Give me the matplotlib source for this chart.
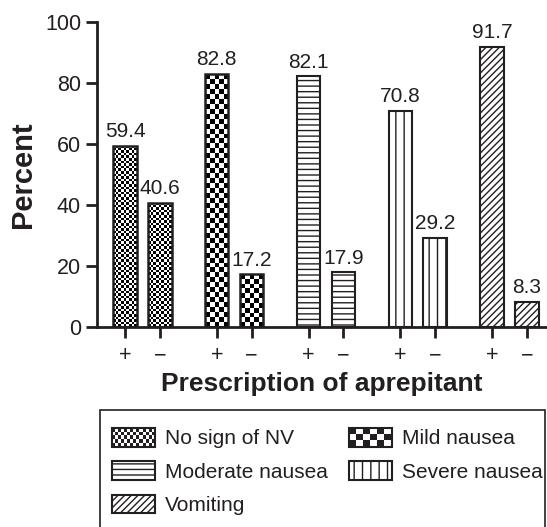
import numpy as np
import matplotlib.pyplot as plt
from matplotlib.patches import Rectangle
from matplotlib.legend_handler import HandlerBase

plt.rcParams['font.family'] = ['Liberation Sans', 'DejaVu Sans']
plt.rcParams['hatch.linewidth'] = 1.0

# data
groups = ['No sign of NV', 'Mild nausea', 'Moderate nausea', 'Severe nausea', 'Vomiting']
with_aprepitant = [59.4, 82.8, 82.1, 70.8, 91.7]
without_aprepitant = [40.6, 17.2, 17.9, 29.2, 8.3]
signs = ['+', '\u2212']
yticks = [0, 20, 40, 60, 80, 100]

# fill style per group: checker cell size in px, or a hatch string
fills = [('checker', 2.6), ('checker', 5.0), ('hatch', '---'), ('hatch', '||'), ('hatch', '/////')]
ink = '#231f20'

W, H = 547, 527
fig = plt.figure(figsize=(W / 100, H / 100), dpi=100)
ax = fig.add_axes([97 / W, 1 - 327 / H, 450 / W, (327 - 21.5) / H])

off = 0.19
width = 0.255
x = np.arange(len(groups))
ax.set_xlim(-0.496, 4.41)
ax.set_ylim(0, 100)


def add_checker(bar, cell):
    x0, y0 = bar.get_x(), bar.get_y()
    w, h = bar.get_width(), bar.get_height()
    (px0, py0), (px1, py1) = ax.transData.transform([(x0, y0), (x0 + w, y0 + h)])
    nx = max(1, int(round((px1 - px0) / cell)))
    ny = max(1, int(round((py1 - py0) / cell)))
    arr = np.add.outer(np.arange(ny), np.arange(nx)) % 2
    im = ax.imshow(arr, cmap='gray', extent=(x0, x0 + w, y0, y0 + h), origin='lower',
                   interpolation='nearest', aspect='auto', zorder=2)
    im.set_clip_path(bar)


for i, g in enumerate(groups):
    kind, val = fills[i]
    for xx, v in [(x[i] - off, with_aprepitant[i]), (x[i] + off, without_aprepitant[i])]:
        if kind == 'hatch':
            b = ax.bar(xx, v, width, facecolor='white', edgecolor=ink, linewidth=1.5, hatch=val, zorder=3)[0]
        else:
            b = ax.bar(xx, v, width, facecolor='none', edgecolor=ink, linewidth=1.8, zorder=3)[0]
            add_checker(b, val)
        ax.text(xx, v + 1.5, f'{v:.1f}', ha='center', va='bottom', fontsize=15, color=ink)

ax.set_xlim(-0.496, 4.41)
ax.set_ylim(0, 100)

ax.spines['top'].set_visible(False)
ax.spines['right'].set_visible(False)
for s in ['left', 'bottom']:
    ax.spines[s].set_linewidth(2)
    ax.spines[s].set_color(ink)

tick_pos = np.concatenate([[xi - off, xi + off] for xi in x])
ax.set_xticks(tick_pos)
ax.set_xticklabels(signs * len(groups))
ax.set_yticks(yticks)
ax.tick_params(axis='both', length=8, width=2, colors=ink, labelsize=15.5)
ax.tick_params(axis='x', pad=5)
ax.set_ylabel('Percent', fontsize=21, fontweight='bold', color=ink, labelpad=6)
ax.set_xlabel('Prescription of aprepitant', fontsize=19, fontweight='bold', color=ink, labelpad=4)


class CheckerHandler(HandlerBase):
    def __init__(self, nx, ny):
        super().__init__()
        self.nx, self.ny = nx, ny

    def create_artists(self, legend, orig_handle, xdescent, ydescent, width, height, fontsize, trans):
        arts = [Rectangle((-xdescent, -ydescent), width, height, facecolor='white',
                          edgecolor='none', transform=trans)]
        cw, ch = width / self.nx, height / self.ny
        for a in range(self.nx):
            for b in range(self.ny):
                if (a + b) % 2 == 0:
                    arts.append(Rectangle((-xdescent + a * cw, -ydescent + b * ch), cw, ch,
                                          facecolor=ink, edgecolor='none', transform=trans))
        arts.append(Rectangle((-xdescent, -ydescent), width, height, facecolor='none',
                              edgecolor=ink, linewidth=1.5, transform=trans))
        return arts


handles = []
hmap = {}
for i, g in enumerate(groups):
    kind, val = fills[i]
    if kind == 'hatch':
        h = Rectangle((0, 0), 1, 1, facecolor='white', edgecolor=ink, linewidth=1.5, hatch=val)
    else:
        h = Rectangle((0, 0), 1, 1, facecolor='white', edgecolor=ink)
        hmap[h] = CheckerHandler(14, 5) if val < 4 else CheckerHandler(6, 3)
    handles.append(h)

# legend box drawn separately so the padding can differ from the entries
fig.patches.append(Rectangle((100 / W, -0.02), 445 / W, 1 - 410 / H + 0.02,
                             transform=fig.transFigure, facecolor='white',
                             edgecolor=ink, linewidth=1.2, zorder=0))

order = [0, 2, 4, 1, 3]
leg = fig.legend([handles[k] for k in order], [groups[k] for k in order], ncol=2,
                 loc='upper left', bbox_to_anchor=(112 / W, 1 - 428 / H),
                 borderaxespad=0, borderpad=0, frameon=False,
                 fontsize=15, handlelength=2.05, handleheight=1.0, handletextpad=0.5,
                 labelspacing=0.62, columnspacing=1.0, handler_map=hmap)
for t in leg.get_texts():
    t.set_color(ink)

fig.savefig('out.png', dpi=100)
